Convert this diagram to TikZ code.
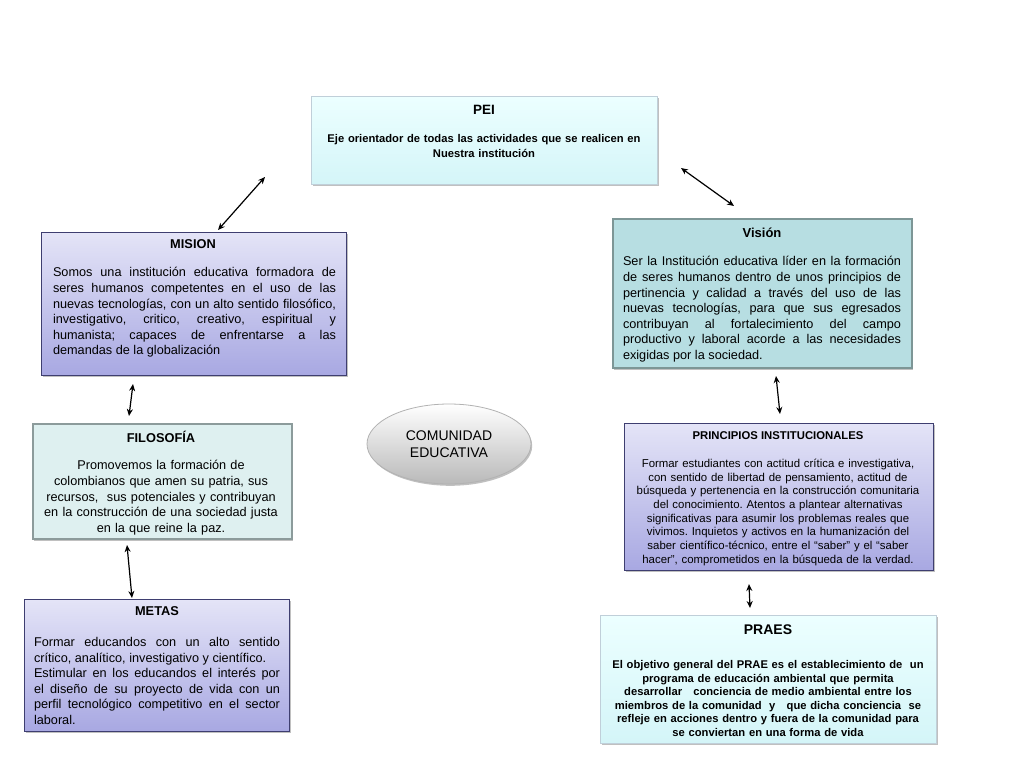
\documentclass[tikz,border=0pt]{standalone}
\usepackage{fontspec}
\setmainfont{Liberation Sans}
\usetikzlibrary{arrows.meta,shadows,shapes.geometric}
\definecolor{lavtop}{RGB}{228,228,247}
\definecolor{lavbot}{RGB}{168,168,226}
\definecolor{lavbd}{RGB}{62,62,112}
\definecolor{cytop}{RGB}{236,255,255}
\definecolor{cybot}{RGB}{212,245,248}
\definecolor{cybd}{RGB}{192,207,217}
\definecolor{tealfill}{RGB}{183,222,226}
\definecolor{tealbd}{RGB}{125,150,150}
\definecolor{filfill}{RGB}{222,240,240}
\definecolor{filbd}{RGB}{140,155,155}
\newcommand\fsBody{\fontsize{12.7}{15.6}\selectfont}
\newcommand\fsSmall{\fontsize{11.4}{13.7}\selectfont}
\newcommand\fsBold{\fontsize{11.2}{13.6}\selectfont\bfseries}
\frenchspacing
\begin{document}
\begin{tikzpicture}[x=1pt,y=-1pt,
  shad/.style={drop shadow={shadow xshift=1.2pt,shadow yshift=-1.8pt,opacity=0.35,fill=black!70}},
  basebox/.style={rectangle,anchor=north west,inner sep=0pt,shad},
  lavbox/.style={basebox,draw=lavbd,line width=0.9pt,top color=lavtop,bottom color=lavbot},
  cybox/.style={basebox,draw=cybd,line width=1pt,top color=cytop,bottom color=cybot},
  tealbox/.style={basebox,draw=tealbd,line width=2.2pt,fill=tealfill},
  filbox/.style={basebox,draw=filbd,line width=2.2pt,fill=filfill},
  ttl/.style={inner sep=0pt,anchor=center,font=\fontsize{12.8}{14}\selectfont\bfseries},
  body/.style={inner sep=0pt,anchor=north},
  arr/.style={{Stealth[length=7pt,width=6pt]}-{Stealth[length=7pt,width=6pt]},line width=1.2pt,black}
]
\useasboundingbox[fill=white] (0,0) rectangle (1024,768);
\hyphenpenalty=10000 \tolerance=10000 \frenchspacing

% boxes
\node[cybox,minimum width=346pt,minimum height=88pt] (pei) at (311,96) {};
\node[lavbox,minimum width=305pt,minimum height=143pt] (mision) at (41,232) {};
\node[tealbox,minimum width=299pt,minimum height=149pt] (vision) at (612,218) {};
\node[filbox,minimum width=259pt,minimum height=115pt] (filosofia) at (32,423) {};
\node[lavbox,minimum width=309pt,minimum height=147pt] (principios) at (624,423) {};
\node[lavbox,minimum width=265pt,minimum height=132pt] (metas) at (24,599) {};
\node[cybox,minimum width=336pt,minimum height=128pt] (praes) at (600,615) {};
\node[ellipse,minimum width=164pt,minimum height=80pt,draw=gray!60,line width=0.8pt,
      top color=white,bottom color=gray!55,shad,align=center,
      font=\fontsize{14}{17}\selectfont] (comunidad) at (449,444) {COMUNIDAD\\EDUCATIVA};

% titles
\node[ttl,font=\fontsize{13.5}{15}\selectfont\bfseries] (peit) at (484,110) {PEI};
\node[ttl] (misiont) at (193,244) {MISION};
\node[ttl,font=\fontsize{13}{15}\selectfont\bfseries] (visiont) at (762,233) {Visión};
\node[ttl] (filosofiat) at (161,437) {FILOSOFÍA};
\node[ttl,font=\fontsize{11.3}{13}\selectfont\bfseries] (principiost) at (778,436) {PRINCIPIOS INSTITUCIONALES};
\node[ttl] (metast) at (157,611) {METAS};
\node[ttl,font=\fontsize{14}{16}\selectfont\bfseries] (praest) at (768,630) {PRAES};

% bodies
\node[body,text width=340pt,align=center,font=\fontsize{11.2}{15}\selectfont\bfseries] (peib) at (484,131.7)
 {\strut Eje orientador de todas las actividades que se realicen en\\Nuestra institución};
\node[body,text width=283pt,align=justify,font=\fsBody] (misionb) at (194.5,265.7)
 {\strut Somos una institución educativa formadora de\linebreak
 seres humanos competentes en el uso de las\linebreak
 nuevas tecnologías, con un alto sentido filosófico,\linebreak
 investigativo, critico, creativo, espiritual y\linebreak
 humanista; capaces de enfrentarse a las\linebreak
 demandas de la globalización};
\node[body,text width=278pt,align=justify,font=\fsBody] (visionb) at (762,254.7)
 {\strut Ser la Institución educativa líder en la formación\linebreak
 de seres humanos dentro de unos principios de\linebreak
 pertinencia y calidad a través del uso de las\linebreak
 nuevas tecnologías, para que sus egresados\linebreak
 contribuyan al fortalecimiento del campo\linebreak
 productivo y laboral acorde a las necesidades\linebreak
 exigidas por la sociedad.};
\node[body,text width=255pt,align=center,font=\fsBody] (filosofiab) at (161,458.7)
 {\strut Promovemos la formación de\\
 colombianos que amen su patria, sus\\
 recursos,\ \ sus potenciales y contribuyan\\
 en la construcción de una sociedad justa\\
 en la que reine la paz.};
\node[body,text width=305pt,align=center,font=\fsSmall] (principiosb) at (778,457.6)
 {\strut Formar estudiantes con actitud crítica e investigativa,\\
 con sentido de libertad de pensamiento, actitud de\\
 búsqueda y pertenencia en la construcción comunitaria\\
 del conocimiento. Atentos a plantear alternativas\\
 significativas para asumir los problemas reales que\\
 vivimos. Inquietos y activos en la humanización del\\
 saber científico-técnico, entre el “saber” y el “saber\\
 hacer”, comprometidos en la búsqueda de la verdad.};
\node[body,text width=246pt,align=justify,font=\fontsize{12.7}{15.5}\selectfont] (metasb) at (157,635.8)
 {\strut Formar educandos con un alto sentido\linebreak
 crítico, analítico, investigativo y científico.\\
 Estimular en los educandos el interés por\linebreak
 el diseño de su proyecto de vida con un\linebreak
 perfil tecnológico competitivo en el sector\linebreak
 laboral.};
\node[body,text width=334pt,align=center,font=\fsBold] (praesb) at (768,658.7)
 {\strut El objetivo general del PRAE es el establecimiento de\ \ un\\
 programa de educación ambiental que permita\\
 desarrollar\ \ \ conciencia de medio ambiental entre los\\
 miembros de la comunidad\ \ y\ \ \ que dicha conciencia\ \ se\\
 refleje en acciones dentro y fuera de la comunidad para\\
 se conviertan en una forma de vida};

% arrow ends
\coordinate (a1s) at (218,230); \coordinate (a1e) at (265,177);
\coordinate (a2s) at (681,168); \coordinate (a2e) at (734,206);
\coordinate (a3s) at (133,384); \coordinate (a3e) at (129,416);
\coordinate (a4s) at (127,545); \coordinate (a4e) at (132,598);
\coordinate (a5s) at (776,376); \coordinate (a5e) at (780,414);
\coordinate (a6s) at (749,584); \coordinate (a6e) at (750,608);
\draw[arr] (a1s) -- (a1e);
\draw[arr] (a2s) -- (a2e);
\draw[arr] (a3s) -- (a3e);
\draw[arr] (a4s) -- (a4e);
\draw[arr] (a5s) -- (a5e);
\draw[arr] (a6s) -- (a6e);
\end{tikzpicture}
\end{document}
